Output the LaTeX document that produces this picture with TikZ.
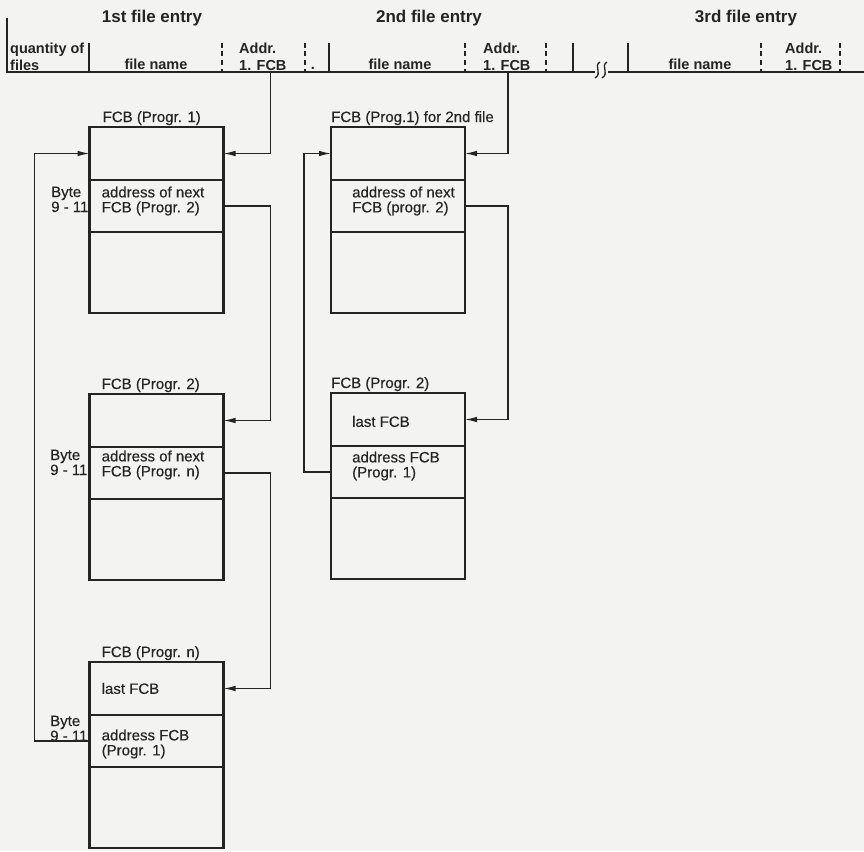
\documentclass[tikz,border=0pt]{standalone}
\usepackage{fontspec}
\setmainfont{Liberation Sans}
\newfontfamily\fcbfont[FakeBold=0.35]{Liberation Sans}
\usepackage{tikz}
\usetikzlibrary{arrows.meta, positioning}

\definecolor{paper}{RGB}{243,243,241}
\definecolor{ink}{RGB}{36,36,36}

\tikzset{
  fcb/.style={draw=ink, line width=2.8pt, minimum width=134pt, outer sep=0pt, inner sep=0pt},
  ptr/.style={draw=ink, line width=1.2pt, -{Latex[length=12pt,width=5.5pt]}},
  hdline/.style={draw=ink, line width=1.4pt},
  divdash/.style={hdline, dash pattern=on 5pt off 3.5pt},
  ttl/.style={font=\bfseries\fontsize{17}{20}\selectfont, text=ink, inner sep=0pt},
  hd/.style={font=\bfseries\fontsize{14.5}{17.5}\selectfont, text=ink, inner sep=0pt, align=left},
  lbl/.style={font=\fcbfont\fontsize{15}{15}\selectfont, text=ink, inner sep=0pt},
  txt/.style={lbl, align=left},
}

\begin{document}
\begin{tikzpicture}[x=1pt, y=-1pt]
    \fill[paper] (0,0) rectangle (864,851);
    \useasboundingbox (0,0) rectangle (864,851);

    % Header: directory entries
    \node[ttl, anchor=base] (ttlA) at (152,23) {1st file entry};
    \node[ttl, anchor=base] (ttlB) at (429,23) {2nd file entry};
    \node[ttl, anchor=base] (ttlC) at (746,23) {3rd file entry};

    \draw[hdline] (7,18) -- (7,72) -- (595,72);
    \draw[hdline] (608,72) -- (864,72);
    \draw[hdline] (89,43) -- (89,72);
    \draw[hdline] (329,43) -- (329,72);
    \draw[hdline] (573,43) -- (573,72);
    \draw[hdline] (628,43) -- (628,72);
    \draw[divdash] (222,43) -- (222,72);
    \draw[divdash] (305,43) -- (305,72);
    \draw[divdash] (465,43) -- (465,72);
    \draw[divdash] (546,43) -- (546,72);
    \draw[divdash] (761,43) -- (761,72);
    \draw[divdash] (840,43) -- (840,72);
    % break mark
    \draw[ink, line width=1.3pt] (600,62) .. controls (593,66) and (603,73) .. (595,78);
    \draw[ink, line width=1.3pt] (607,62) .. controls (600,66) and (610,73) .. (602,78);

    \node[hd, anchor=north west] (qty) at (10,42.5) {quantity of\\files};
    \node[hd, anchor=base] (nameA) at (156,70) {file name};
    \node[hd, anchor=base] (nameB) at (400,70) {file name};
    \node[hd, anchor=base] (nameC) at (700,70) {file name};
    \node[hd, anchor=north west] (adrA) at (239,42.5) {Addr.\\1. FCB};
    \node[hd, anchor=north west] (adrB) at (483,42.5) {Addr.\\1. FCB};
    \node[hd, anchor=north west] (adrC) at (785,42.5) {Addr.\\1. FCB};
    \node[hd, anchor=base] (dot) at (313,70) {.};
    \coordinate (addrA) at (270.5,72);
    \coordinate (addrB) at (508,72);

    % FCB chain of the 1st file
    \node[fcb, minimum height=53pt] (fcbA-1) at (156.5,153.5) {};
    \node[fcb, minimum height=52pt, below=0pt of fcbA-1] (fcbA-2) {};
    \node[fcb, minimum height=81pt, below=0pt of fcbA-2] (fcbA-3) {};
    \node[lbl, anchor=base west] (labA) at ([xshift=13pt,yshift=5pt]fcbA-1.north west) {FCB (Progr. 1)};
    \node[txt, anchor=west, yshift=5pt] (txA) at ([xshift=12pt]fcbA-2.west) {address of next\\FCB (Progr. 2)};
    \node[txt, anchor=north west] (byteA) at (51,186.5) {Byte\\9 - 11};

    \node[fcb, minimum height=53pt] (fcbB-1) at (156.5,420.5) {};
    \node[fcb, minimum height=52pt, below=0pt of fcbB-1] (fcbB-2) {};
    \node[fcb, minimum height=81pt, below=0pt of fcbB-2] (fcbB-3) {};
    \node[lbl, anchor=base west] (labB) at ([xshift=12pt,yshift=5pt]fcbB-1.north west) {FCB (Progr. 2)};
    \node[txt, anchor=west, yshift=8pt] (txB) at ([xshift=12pt]fcbB-2.west) {address of next\\FCB (Progr. n)};
    \node[txt, anchor=north west] (byteB) at (50,449.5) {Byte\\9 - 11};

    \node[fcb, minimum height=53pt] (fcbC-1) at (156.5,688.5) {};
    \node[fcb, minimum height=52pt, below=0pt of fcbC-1] (fcbC-2) {};
    \node[fcb, minimum height=81pt, below=0pt of fcbC-2] (fcbC-3) {};
    \node[lbl, anchor=base west] (labC) at ([xshift=12pt,yshift=5pt]fcbC-1.north west) {FCB (Progr. n)};
    \node[txt, anchor=west] (lastC) at ([xshift=12pt]fcbC-1.west) {last FCB};
    \node[txt, anchor=west, yshift=-3pt] (txC) at ([xshift=12pt]fcbC-2.west) {address FCB\\(Progr. 1)};
    \node[txt, anchor=north west] (byteC) at (50,715.5) {Byte\\9 - 11};

    % FCB chain of the 2nd file
    \node[fcb, minimum height=53pt] (fcbD-1) at (398,153.5) {};
    \node[fcb, minimum height=52pt, below=0pt of fcbD-1] (fcbD-2) {};
    \node[fcb, minimum height=81pt, below=0pt of fcbD-2] (fcbD-3) {};
    \node[lbl, anchor=base west] (labD) at ([yshift=5pt]fcbD-1.north west) {FCB (Prog.1) for 2nd file};
    \node[txt, anchor=west, yshift=5pt] (txD) at ([xshift=21pt]fcbD-2.west) {address of next\\FCB (progr. 2)};

    \node[fcb, minimum height=53pt] (fcbE-1) at (398,419.5) {};
    \node[fcb, minimum height=52pt, below=0pt of fcbE-1] (fcbE-2) {};
    \node[fcb, minimum height=81pt, below=0pt of fcbE-2] (fcbE-3) {};
    \node[lbl, anchor=base west] (labE) at ([yshift=5pt]fcbE-1.north west) {FCB (Progr. 2)};
    \node[txt, anchor=west, yshift=-2pt] (lastE) at ([xshift=21pt]fcbE-1.west) {last FCB};
    \node[txt, anchor=west, yshift=6pt] (txE) at ([xshift=21pt]fcbE-2.west) {address FCB\\(Progr. 1)};

    % pointers
    \draw[ptr] (addrA) |- (fcbA-1.east);
    \draw[ptr] (fcbA-2.east) -- ++(47,0) |- (fcbB-1.east);
    \draw[ptr] (fcbB-2.east) -- ++(47,0) |- (fcbC-1.east);
    \draw[ptr] (fcbC-2.west) -- ++(-55,0) |- (fcbA-1.west);
    \draw[ptr] (addrB) |- (fcbD-1.east);
    \draw[ptr] (fcbD-2.east) -- ++(43,0) |- (fcbE-1.east);
    \draw[ptr] (fcbE-2.west) -- ++(-27,0) |- (fcbD-1.west);
\end{tikzpicture}
\end{document}
